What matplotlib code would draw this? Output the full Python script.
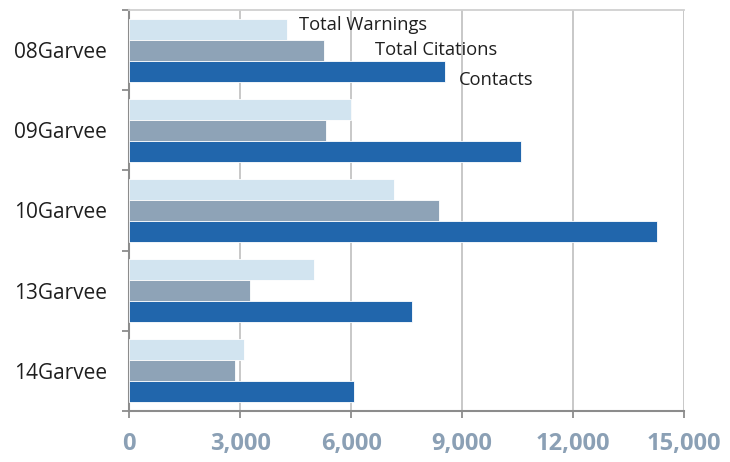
import matplotlib
matplotlib.use('Agg')
import matplotlib.pyplot as plt
import numpy as np

categories = ['08Garvee', '09Garvee', '10Garvee', '13Garvee', '14Garvee']
warnings = [4270, 6000, 7150, 5000, 3110]
citations = [5280, 5330, 8380, 3270, 2870]
contacts = [8550, 10600, 14270, 7640, 6090]
series_names = ['Total Warnings', 'Total Citations', 'Contacts']
xticks = [0, 3000, 6000, 9000, 12000, 15000]

plt.rcParams['font.family'] = ['Open Sans', 'DejaVu Sans']

fig = plt.figure(figsize=(7.3, 4.62), dpi=100)
ax = fig.add_axes([0.177, 0.1104, 0.760, 0.8680])

y = np.arange(len(categories))
h = 0.2625
ax.barh(y - h, warnings, height=h, color='#D2E4F0', edgecolor='white', linewidth=0.6, zorder=3)
ax.barh(y, citations, height=h, color='#8EA3B7', edgecolor='white', linewidth=0.6, zorder=3)
ax.barh(y + h, contacts, height=h, color='#2166AC', edgecolor='white', linewidth=0.6, zorder=3)

ax.set_xlim(0, 15000)
ax.set_ylim(len(categories) - 0.5, -0.5)

ax.set_xticks(xticks)
ax.set_xticklabels([f'{v:,}' for v in xticks], fontsize=17, fontweight='bold', color='#8BA0B5')
ax.tick_params(axis='x', length=5, width=1.3, color='#8C8C8C', pad=10)
ax.xaxis.grid(True, color='#C4C4C4', linewidth=1.3, zorder=0)

ax.set_yticks(y)
ax.set_yticklabels(categories, fontsize=15, color='#1F1F1F')
ax.set_yticks(np.arange(-0.5, len(categories)), minor=True)
ax.tick_params(axis='y', which='major', length=0, pad=16)
ax.tick_params(axis='y', which='minor', length=5, width=1.3, color='#8C8C8C')

for side in ['left', 'bottom']:
    ax.spines[side].set_color('#8C8C8C')
    ax.spines[side].set_linewidth(1.5)
ax.spines['top'].set_color('#D0D0D0')
ax.spines['top'].set_linewidth(1.3)
ax.spines['right'].set_visible(False)

# series names written beside the first group of bars
label_x = [4590, 6640, 8910]
label_y = [-0.315, -0.005, 0.375]
for name, lx, ly in zip(series_names, label_x, label_y):
    ax.text(lx, ly, name, fontsize=13.2, color='#1F1F1F', va='center', ha='left', zorder=4)

fig.savefig('out.png', dpi=100)
